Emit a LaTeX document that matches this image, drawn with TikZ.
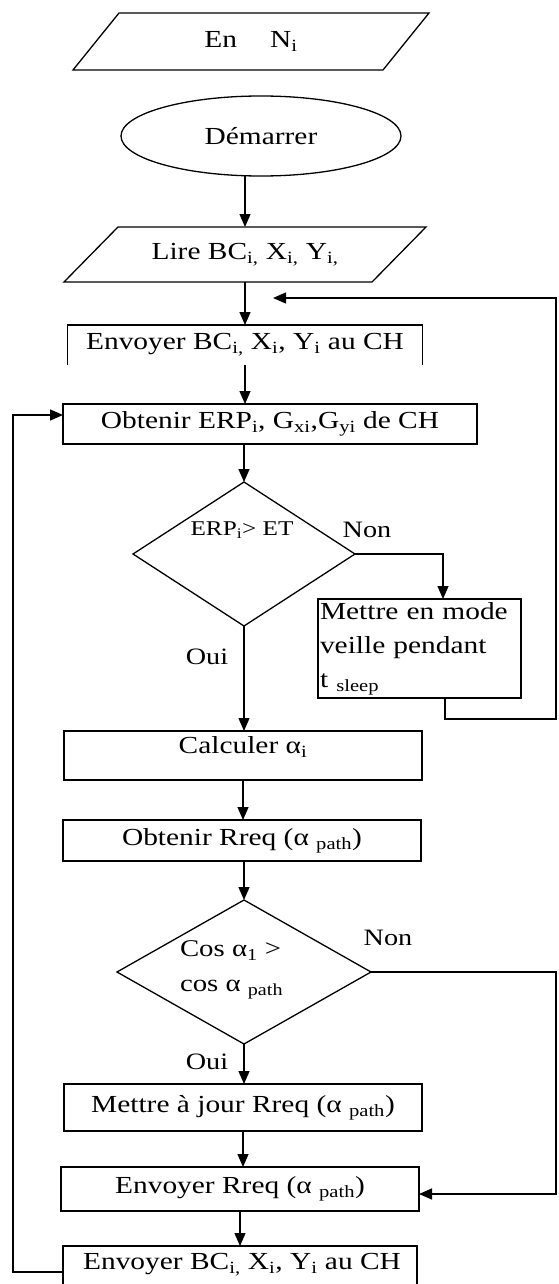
\documentclass[tikz,border=0pt]{standalone}
\usepackage{fontspec}
\setmainfont{Liberation Serif}[FakeStretch=1.2]
\usetikzlibrary{shapes.geometric,arrows.meta,calc}
\begin{document}
\begin{tikzpicture}[x=1pt,y=-1pt,
  every node/.style={inner sep=0pt, outer sep=0pt},
  txt/.style={font=\fontsize{24.5}{30}\selectfont},
  small/.style={font=\fontsize{21}{26}\selectfont},
  lbl/.style={font=\fontsize{23.5}{28}\selectfont},
  link/.style={line width=1.3pt},
  boxed/.style={draw, line width=1.3pt},
  arr/.style={link, -{Triangle[length=13pt,width=11pt]}},
]
\useasboundingbox (0,0) rectangle (559,1284);

% input parallelogram
\node[txt, minimum width=310pt, minimum height=57pt] (in) at (251,41.5) {En\hspace{33pt}N\textsubscript{i}};
\draw[link] ([xshift=-23pt]in.south west) -- ([xshift=-23pt]in.south east)
  -- ([xshift=23pt]in.north east) -- ([xshift=23pt]in.north west) -- cycle;

% start
\node[ellipse, boxed, txt, minimum width=280pt, minimum height=80pt] (start) at (261,136) {Démarrer};

% read parallelogram
\node[txt, minimum width=308pt, minimum height=55pt] (read) at (245,254.5) {Lire BC\textsubscript{i,} X\textsubscript{i,} Y\textsubscript{i,}};
\draw[link] ([xshift=-27pt]read.south west) -- ([xshift=-27pt]read.south east)
  -- ([xshift=27pt]read.north east) -- ([xshift=27pt]read.north west) -- cycle;
\draw[arr] (start.south -| read.north) -- (read.north);

% send 1 (open bottom)
\node[txt, minimum width=355pt, minimum height=40pt] (send1) at (245,345) {Envoyer BC\textsubscript{i,} X\textsubscript{i}, Y\textsubscript{i} au CH};
\draw[link] (send1.south west) -- (send1.north west) -- (send1.north east) -- (send1.south east);
\draw[arr] (read.south) -- (read.south |- send1.north);

% get ERP
\node[boxed, txt, minimum width=414pt, minimum height=40pt] (erp) at (270,424) {Obtenir ERP\textsubscript{i}, G\textsubscript{xi},G\textsubscript{yi} de CH};
\draw[arr] (send1.south) -- (send1.south |- erp.north);

% test 1
\node[diamond, boxed, minimum width=222pt, minimum height=144pt] (test1) at (244,554) {};
\node[small] (t1) at (242,530) {ERP\textsubscript{i}> ET};
\draw[arr] (erp.south -| test1.north) -- (test1.north);
\node[lbl] (no1) at (367,530) {Non};

% sleep
\node[boxed, align=left, text width=199pt, inner xsep=2pt, minimum height=99pt,
  font=\fontsize{24.5}{34}\selectfont] (sleep) at (419.5,648.5) {Mettre en mode\\ veille pendant\\ t \textsubscript{sleep}};
\draw[arr] (test1.east) -| ([xshift=23.5pt]sleep.north);
\coordinate (back1) at (273,298);
\draw[arr] ([xshift=25.5pt]sleep.south) -- ++(0,21) -| (556,298) -- (back1);

% compute alpha
\node[lbl] (yes1) at (207,657) {Oui};
\node[boxed, minimum width=358pt, minimum height=49pt] (calc) at (243,755.5) {};
\node[txt] (calct) at (243,747) {Calculer α\textsubscript{i}};
\draw[arr] (test1.south) -- (test1.south |- calc.north);

% get Rreq
\node[boxed, txt, minimum width=358pt, minimum height=41pt] (getr) at (242,840.5) {Obtenir Rreq (α \textsubscript{path})};
\draw[arr] (calc.south) -- (calc.south |- getr.north);

% test 2
\node[diamond, boxed, minimum width=254pt, minimum height=144pt] (test2) at (244,972) {};
\node[align=left, anchor=west, font=\fontsize{24}{35}\selectfont] (t2) at (180,970) {Cos α\textsubscript{1} >\\ cos α \textsubscript{path}};
\draw[arr] (getr.south -| test2.north) -- (test2.north);
\node[lbl] (no2) at (388,938) {Non};
\node[lbl] (yes2) at (207,1062) {Oui};

% update
\node[boxed, txt, minimum width=358pt, minimum height=47pt] (upd) at (243,1107.5) {Mettre à jour Rreq (α \textsubscript{path})};
\draw[arr] (test2.south) -- (test2.south |- upd.north);

% send Rreq
\node[boxed, txt, minimum width=358pt, minimum height=44pt] (sendr) at (240,1189) {Envoyer Rreq (α \textsubscript{path})};
\draw[arr] (upd.south) -- (upd.south |- sendr.north);
\draw[arr] (test2.east) -- ++(185,0) |- ([yshift=-5pt]sendr.east);

% send 2
\node[boxed, minimum width=354pt, minimum height=54pt] (send2) at (240,1273) {};
\node[txt] (send2t) at (242,1265) {Envoyer BC\textsubscript{i,} X\textsubscript{i}, Y\textsubscript{i} au CH};
\draw[arr] (sendr.south) -- (sendr.south |- send2.north);
\draw[arr] ([yshift=1pt]send2.west) -- ++(-50,0) |- ([yshift=9pt]erp.west);
\end{tikzpicture}
\end{document}
